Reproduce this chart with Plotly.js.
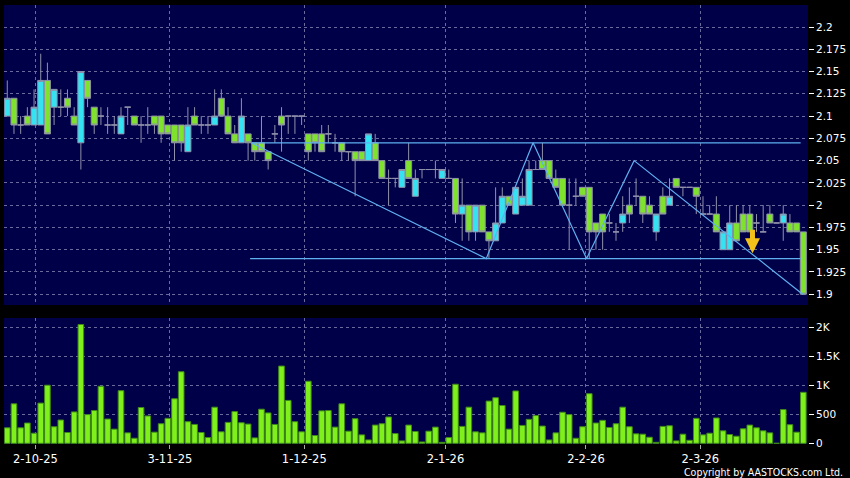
<!DOCTYPE html>
<html><head><meta charset="utf-8">
<script src="https://cdn.plot.ly/plotly-3.0.1.min.js"></script>
<style>html,body{margin:0;padding:0;background:#000;}#chart{width:850px;height:478px;}</style>
</head><body><div id="chart"></div>
<script>
// ---- data (trading-day index 0..119) ----
const opens  = [2.10,2.12,2.09,2.10,2.09,2.09,2.14,2.11,2.11,2.12, 2.10,2.07,2.14,2.11,2.10,2.09,2.09,2.08,2.11,2.10,
                2.09,2.09,2.10,2.10,2.09,2.09,2.09,2.06,2.10,2.09, 2.09,2.09,2.12,2.10,2.08,2.07,2.08,2.07,2.07,2.06,
                2.08,2.10,2.10,2.10,2.10,2.08,2.08,2.08,2.08,2.07, 2.07,2.06,2.06,2.06,2.05,2.07,2.05,2.03,2.03,2.02,
                2.05,2.01,2.04,2.04,2.04,2.03,2.03,2.03,1.99,2.00, 1.97,2.00,1.97,1.96,1.98,2.01,1.99,2.00,2.00,2.04,
                2.05,2.05,2.03,2.03,2.00,2.01,2.02,2.02,1.98,1.99, 1.98,1.97,1.98,2.00,2.01,2.01,2.00,1.97,2.01,2.00,
                2.03,2.02,2.02,2.02,1.99,1.99,1.99,1.95,1.95,1.98, 1.99,1.99,1.98,1.97,1.99,1.98,1.98,1.98,1.98,1.97];
const highs  = [2.14,2.12,2.10,2.11,2.13,2.17,2.16,2.13,2.13,2.13, 2.11,2.15,2.14,2.11,2.11,2.11,2.10,2.11,2.11,2.10,
                2.10,2.11,2.10,2.10,2.09,2.09,2.09,2.11,2.11,2.10, 2.10,2.13,2.13,2.11,2.09,2.12,2.08,2.07,2.10,2.06,
                2.09,2.11,2.10,2.10,2.10,2.08,2.08,2.09,2.09,2.08, 2.07,2.06,2.06,2.06,2.08,2.08,2.05,2.04,2.03,2.04,
                2.07,2.04,2.04,2.04,2.05,2.04,2.04,2.03,2.03,2.00, 2.00,2.00,1.97,2.02,2.02,2.01,2.02,2.03,2.05,2.05,
                2.07,2.05,2.04,2.03,2.03,2.03,2.02,2.02,1.98,1.99, 1.99,1.98,2.01,2.02,2.03,2.01,2.01,1.99,2.02,2.03,
                2.03,2.02,2.02,2.02,2.01,2.00,2.01,1.97,2.00,2.00, 2.00,2.00,1.99,2.00,2.00,1.98,2.00,1.99,1.98,1.97];
const lows   = [2.10,2.08,2.08,2.09,2.09,2.09,2.08,2.09,2.10,2.10, 2.09,2.04,2.11,2.08,2.09,2.08,2.08,2.08,2.09,2.09,
                2.07,2.08,2.08,2.07,2.08,2.05,2.06,2.06,2.09,2.08, 2.08,2.09,2.10,2.08,2.07,2.07,2.05,2.05,2.06,2.04,
                2.07,2.06,2.08,2.08,2.09,2.05,2.06,2.06,2.07,2.06, 2.05,2.05,2.01,2.05,2.05,2.05,2.03,2.00,2.02,2.02,
                2.03,2.01,2.03,2.04,2.03,2.03,2.03,1.98,1.96,1.96, 1.96,1.97,1.94,1.96,1.98,2.00,1.99,2.00,2.00,2.04,
                2.04,2.03,2.02,2.00,1.95,2.00,2.01,1.94,1.95,1.95, 1.97,1.96,1.97,1.98,2.00,1.98,1.99,1.96,1.99,2.00,
                2.02,2.01,2.02,1.99,1.99,1.99,1.97,1.95,1.95,1.96, 1.97,1.97,1.97,1.97,1.98,1.98,1.96,1.97,1.97,1.90];
const closes = [2.12,2.09,2.09,2.09,2.11,2.14,2.08,2.13,2.11,2.11, 2.09,2.15,2.12,2.09,2.10,2.09,2.09,2.10,2.11,2.09,
                2.09,2.09,2.09,2.08,2.08,2.07,2.07,2.09,2.09,2.09, 2.09,2.10,2.10,2.08,2.07,2.10,2.07,2.06,2.06,2.05,
                2.08,2.09,2.10,2.10,2.10,2.06,2.07,2.06,2.08,2.07, 2.06,2.06,2.05,2.05,2.08,2.05,2.03,2.03,2.03,2.04,
                2.03,2.03,2.04,2.04,2.04,2.04,2.03,1.99,2.00,1.97, 2.00,1.97,1.96,1.98,2.01,2.00,2.02,2.01,2.04,2.04,
                2.04,2.03,2.02,2.00,2.00,2.01,2.01,1.97,1.97,1.97, 1.98,1.97,1.99,1.99,2.01,1.99,1.99,1.99,1.99,2.01,
                2.02,2.02,2.02,2.01,1.99,1.99,1.97,1.97,1.98,1.96, 1.97,1.97,1.98,1.97,1.98,1.98,1.99,1.97,1.97,1.90];
const volumes = [267,680,267,349,174,692,1000,285,401,186, 540,2045,494,564,982,418,244,906,180,87,
                 616,471,192,337,430,767,1232,372,325,186, 99,622,198,360,546,354,331,93,587,523,
                 325,1330,738,372,198,1069,134,558,564,279, 680,209,424,145,58,314,337,453,168,41,
                 314,203,23,209,279,17,99,1017,291,622, 198,180,727,785,651,244,901,308,413,477,
                 297,58,180,535,494,87,285,854,349,395, 273,337,622,285,163,157,105,17,291,302,
                 41,157,52,430,145,174,436,215,151,122, 250,314,267,215,180,0,581,320,192,878];
const dateLabels  = ['2-10-25','3-11-25','1-12-25','2-1-26','2-2-26','2-3-26'];
const dateTickIdx = [4.2, 24.3, 44.4, 65.5, 86.5, 103.6];
const priceTicks  = [1.9,1.925,1.95,1.975,2,2.025,2.05,2.075,2.1,2.125,2.15,2.175,2.2];
const volTicks    = [0,500,1000,1500,2000];
const volTickText = ['0','500','1K','1.5K','2K'];
// trend lines drawn on the chart
const resistX = [36.5, 118.6], resistY = [2.07, 2.07];
const supportX = [36.3, 118.6], supportY = [1.94, 1.94];
const zigzagX = [36.5, 71.6, 78.6, 86.6, 93.7, 118.9];
const zigzagY = [2.07, 1.94, 2.07, 1.94, 2.05, 1.90];
const signalX = [111.4], signalY = [1.946];

const idx = volumes.map((_, i) => i);
const lineBlue = '#5fb0f0';
const gridC = '#6a6a9c';

const traces = [
  {type:'candlestick', x: idx, open: opens, high: highs, low: lows, close: closes,
   xaxis:'x', yaxis:'y', whiskerwidth:0, hoverinfo:'skip',
   increasing:{fillcolor:'#34e2f2', line:{color:'#9090aa', width:1}},
   decreasing:{fillcolor:'#7fe22c', line:{color:'#9090aa', width:1}}},
  {type:'scatter', mode:'lines', x: resistX, y: resistY, line:{color:lineBlue, width:1.2}, hoverinfo:'skip'},
  {type:'scatter', mode:'lines', x: supportX, y: supportY, line:{color:lineBlue, width:1.2}, hoverinfo:'skip'},
  {type:'scatter', mode:'lines', x: zigzagX, y: zigzagY, line:{color:lineBlue, width:1.2}, hoverinfo:'skip'},
  {type:'bar', x: idx, y: volumes, xaxis:'x', yaxis:'y2', hoverinfo:'skip',
   marker:{color:'#80f01c', line:{color:'#3f8a18', width:1}}}
];

const tickFont = {family:'DejaVu Sans, sans-serif', size:10.5, color:'#ffffff'};
const layout = {
  width:850, height:478,
  margin:{l:4, r:42, t:5, b:34},
  paper_bgcolor:'#000000', plot_bgcolor:'#000048',
  showlegend:false, bargap:0.16, boxgap:0.1, boxgroupgap:0,
  xaxis:{range:[-0.49, 119.7], anchor:'y2', tickvals: dateTickIdx, ticktext: dateLabels,
         showgrid:true, gridcolor:gridC, griddash:'dot', gridwidth:1,
         ticks:'outside', ticklen:4, tickcolor:'#aaaaaa', zeroline:false, showline:false,
         tickfont:{family:'DejaVu Sans, sans-serif', size:11.5, color:'#ffffff'},
         rangeslider:{visible:false}, fixedrange:true},
  yaxis:{domain:[0.3166, 1], range:[1.8879, 2.2247], side:'right',
         tickvals: priceTicks, ticktext: priceTicks.map(String),
         showgrid:true, gridcolor:gridC, griddash:'dot', gridwidth:1,
         ticks:'outside', ticklen:5, tickcolor:'#ffffff', zeroline:false, tickfont: tickFont},
  yaxis2:{domain:[0, 0.287], range:[-12, 2157], side:'right',
         tickvals: volTicks, ticktext: volTickText,
         showgrid:true, gridcolor:gridC, griddash:'dot', gridwidth:1,
         ticks:'outside', ticklen:5, tickcolor:'#ffffff', zeroline:false, tickfont: tickFont},
  annotations:[
    {x: signalX[0], y: signalY[0], xref:'x', yref:'y', text:'', showarrow:true,
     ax:0, ay:-25, arrowhead:2, arrowsize:0.6, arrowwidth:5, arrowcolor:'#f2c21a'},
    {x:1.046, y:-0.063, xref:'paper', yref:'paper', xanchor:'right', yanchor:'middle', showarrow:false,
     text:'Copyright by AASTOCKS.com Ltd.', font:{family:'DejaVu Sans Condensed, DejaVu Sans, sans-serif', size:10.5, color:'#ffffff'}}
  ]
};
Plotly.newPlot('chart', traces, layout, {displayModeBar:false, staticPlot:true});
</script></body></html>
